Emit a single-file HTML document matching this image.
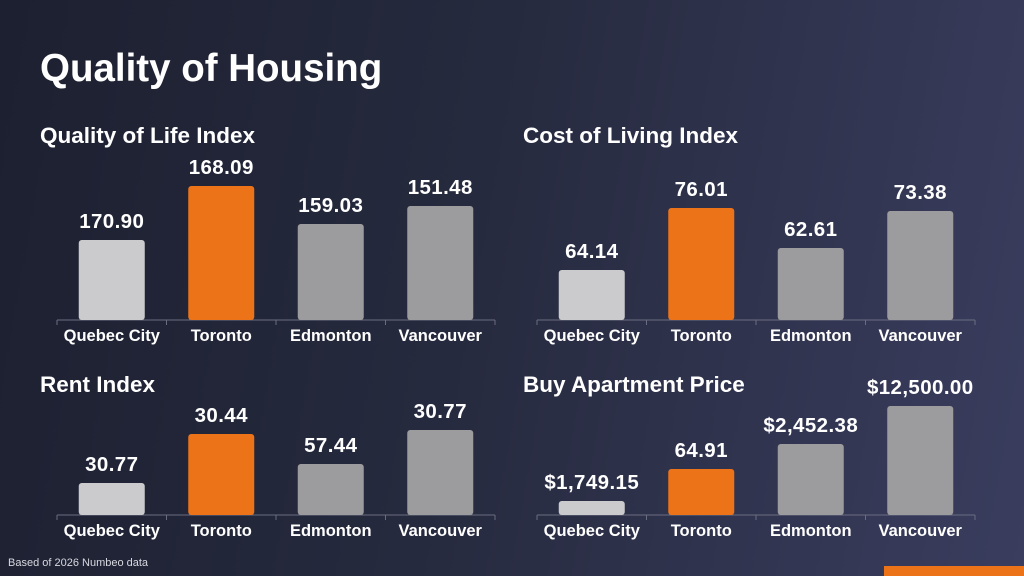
<!DOCTYPE html>
<html><head><meta charset="utf-8"><style>
body{margin:0;width:1024px;height:576px;overflow:hidden;font-family:"Liberation Sans",sans-serif;}
#bg{position:absolute;left:0;top:0;width:1024px;height:576px;background:linear-gradient(100deg,#1c2030 0%,#262a3e 45%,#3a3d5e 100%);}
</style></head><body>
<div id="bg"></div>
<svg id="chart" width="1024" height="576" style="position:absolute;left:0;top:0">
<text x="40" y="81" fill="#fff" font-size="38.5" font-weight="bold">Quality of Housing</text>
<text x="8" y="566" fill="#d8d8e0" font-size="11">Based of 2026 Numbeo data</text>
<rect x="884" y="566" width="140" height="10" fill="#ec7318"/>
</svg>
<script>
const categories=["Quebec City","Toronto","Edmonton","Vancouver"];
const titles=["Quality of Life Index","Cost of Living Index","Rent Index","Buy Apartment Price"];
const qolLabels=["170.90","168.09","159.03","151.48"];
const colLabels=["64.14","76.01","62.61","73.38"];
const rentLabels=["30.77","30.44","57.44","30.77"];
const buyLabels=["$1,749.15","64.91","$2,452.38","$12,500.00"];
const qolValues=[80,134,96,114];
const colValues=[50,112,72,109];
const rentValues=[32,81,51,85];
const buyValues=[14,46,71,109];
const panels=[
 {x0:57,tx:40,base:320,ty:143,vals:qolValues,labs:qolLabels,name:"quality-of-life"},
 {x0:537,tx:523,base:320,ty:143,vals:colValues,labs:colLabels,name:"cost-of-living"},
 {x0:57,tx:40,base:515,ty:392,vals:rentValues,labs:rentLabels,name:"rent-index"},
 {x0:537,tx:523,base:515,ty:392,vals:buyValues,labs:buyLabels,name:"buy-apartment"}
];
const colors=["#cbcbcd","#ec7318","#9c9c9e","#9c9c9e"];
const svg=document.getElementById('chart');
const NS="http://www.w3.org/2000/svg";
function mk(t,a){const e=document.createElementNS(NS,t);for(const k in a)e.setAttribute(k,a[k]);svg.appendChild(e);return e;}
const band=109.5, bw=66;
function xScale(x0,i){return x0+i*band+(band-bw)/2;}
function yScale(base,v){return base-v*1;}
panels.forEach((p,pi)=>{
 const t=mk('text',{x:p.tx,y:p.ty,fill:'#fff','font-size':22.5,'font-weight':'bold'});
 t.textContent=titles[pi];
 
 
 const ax=mk('line',{x1:p.x0,x2:p.x0+4*band,y1:p.base,y2:p.base,stroke:'#6a6d80','stroke-width':1});
 
 
 for(let i=0;i<=4;i++){const tk=mk('line',{x1:p.x0+i*band,x2:p.x0+i*band,y1:p.base,y2:p.base+5,stroke:'#6a6d80'});
  
  }
 p.vals.forEach((v,i)=>{
  const x=xScale(p.x0,i), y=yScale(base=p.base,v);
  const r=mk('rect',{x:x,y:y,width:bw,height:p.base-y,rx:3,fill:colors[i]});
  
  
  const l=mk('text',{x:x+bw/2,y:y-12,fill:'#fff','font-size':20.5,'font-weight':'bold','text-anchor':'middle','letter-spacing':0.4});
  l.textContent=p.labs[i];
  
  
  const c=mk('text',{x:x+bw/2,y:p.base+21,fill:'#fff','font-size':16.5,'font-weight':'bold','text-anchor':'middle'});
  c.textContent=categories[i];
  
  
 });
});
</script>
</body></html>
